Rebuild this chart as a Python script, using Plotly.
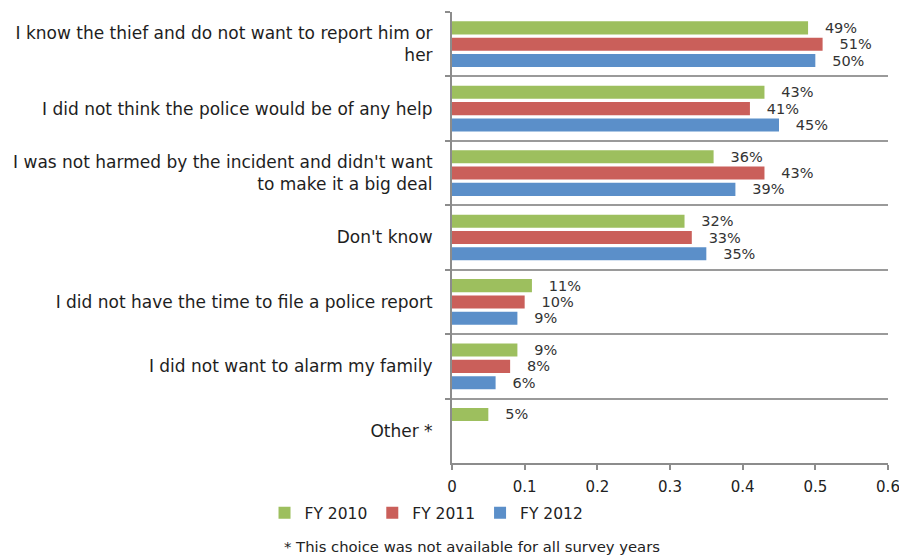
import plotly.graph_objects as go

categories = [
    "I know the thief and do not want to report him or<br>her",
    "I did not think the police would be of any help",
    "I was not harmed by the incident and didn't want<br>to make it a big deal",
    "Don't know",
    "I did not have the time to file a police report",
    "I did not want to alarm my family",
    "Other *",
]
fy2010 = [0.49, 0.43, 0.36, 0.32, 0.11, 0.09, 0.05]
fy2011 = [0.51, 0.41, 0.43, 0.33, 0.10, 0.08, None]
fy2012 = [0.50, 0.45, 0.39, 0.35, 0.09, 0.06, None]
series_names = ["FY 2010", "FY 2011", "FY 2012"]
colors = ["#9DBF5E", "#CA5F5A", "#5B8FC9"]
x_ticks = [0, 0.1, 0.2, 0.3, 0.4, 0.5, 0.6]
footnote = "* This choice was not available for all survey years"

FONT = "DejaVu Sans, Verdana, sans-serif"

fig = go.Figure()
pad = "\u00a0\u00a0\u00a0"
for name, vals, col in zip(series_names, [fy2010, fy2011, fy2012], colors):
    fig.add_trace(go.Bar(
        y=categories, x=vals, name=name, orientation="h",
        marker=dict(color=col, line=dict(width=0)),
        text=[(pad + f"{round(v*100)}%") if v is not None else "" for v in vals],
        textposition="outside", cliponaxis=False, constraintext="none",
        textfont=dict(family=FONT, size=14.5, color="#333333"),
    ))

# page body has an 8px margin, so the figure is 8px smaller than the window
fig.update_layout(
    width=899, height=551,
    margin=dict(l=444, r=19, t=4, b=96, autoexpand=False),
    paper_bgcolor="white", plot_bgcolor="white",
    barmode="group", bargap=0.24, bargroupgap=0.2,
    font=dict(family=FONT, size=15, color="#222222"),
    showlegend=True,
    legend=dict(orientation="h", x=-0.43, y=-0.111, xanchor="left", yanchor="middle",
                font=dict(family=FONT, size=15.5, color="#222222"), traceorder="normal",
                itemwidth=30),
    xaxis=dict(range=[0, 0.6], tickvals=x_ticks, ticktext=[str(t) for t in x_ticks],
               showgrid=False, zeroline=False, showline=True, linecolor="#8c8c8c", linewidth=2,
               ticks="outside", ticklen=5, tickcolor="#8c8c8c", tickwidth=2, automargin=False,
               ticklabelstandoff=4,
               tickfont=dict(family=FONT, size=15, color="#222222")),
    yaxis=dict(type="category", autorange="reversed", tickson="boundaries",
               showgrid=True, gridcolor="#9a9a9a", gridwidth=1.5,
               showline=True, linecolor="#8c8c8c", linewidth=2,
               ticks="outside", ticklen=5, tickcolor="#8c8c8c", tickwidth=1.5,
               ticklabelstandoff=14, automargin=False,
               tickfont=dict(family=FONT, size=17, color="#1e1e1e")),
)
fig.add_annotation(text=footnote, xref="paper", yref="paper", x=-0.39, y=-0.186,
                   xanchor="left", yanchor="middle", showarrow=False,
                   font=dict(family=FONT, size=14.8, color="#222222"))
fig.write_html("out.html")
